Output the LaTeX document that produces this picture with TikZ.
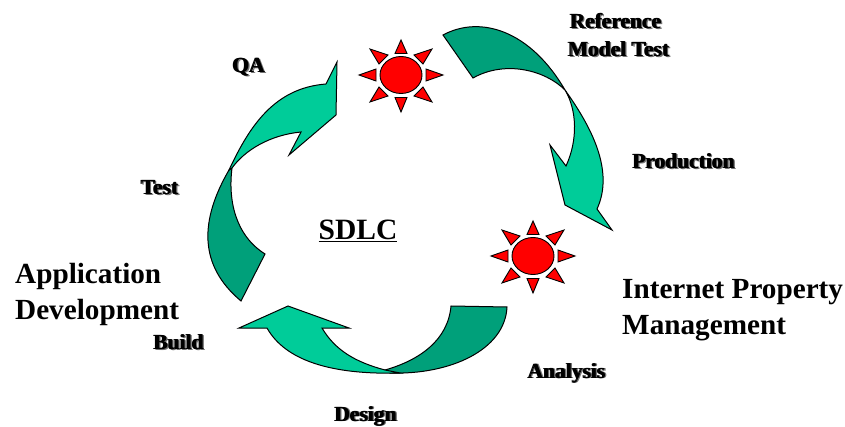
\documentclass[tikz,border=0pt]{standalone}
\usepackage{fontspec}
\setmainfont{Liberation Serif}
\definecolor{lightgreen}{RGB}{0,204,153}
\definecolor{darkgreen}{RGB}{0,160,122}
\tikzset{
  x=1pt,y=-1pt,
  lightarrow/.style={draw=black,line width=1pt,fill=lightgreen,line join=miter},
  darkarrow/.style={draw=black,line width=1pt,fill=darkgreen,line join=miter},
  sunpart/.style={draw=black,line width=0.9pt,fill=red,line join=miter},
  lbl/.style={font=\bfseries\fontsize{21.5}{24}\selectfont,inner sep=0pt,text=black},
  lblshadow/.style={lbl,text=black!55},
  bigtext/.style={font=\bfseries\fontsize{29.2}{36}\selectfont,inner sep=0pt,align=left,anchor=north west},
}
\newcommand{\shadowlabel}[3]{%
  \node[lblshadow] at ($(#1)+(2.2,0.8)$) {#3};
  \node[lbl] at ($(#1)+(1,0)$) {#3};
  \node[lbl] (#2) at (#1) {#3};
}
\newcommand{\sunshape}[3]{%
  \begin{scope}[shift={(#1,#2)}]
    \node[sunpart,ellipse,minimum width=42pt,minimum height=37pt,inner sep=0pt] (#3) at (0,0) {};
    \draw[sunpart] (0,-35) -- (-6,-21.5) -- (6,-21.5) -- cycle;
    \draw[sunpart] (0,37) -- (-6,22.5) -- (6,22.5) -- cycle;
    \draw[sunpart] (42,0) -- (25,-6) -- (25,6) -- cycle;
    \draw[sunpart] (-42,0) -- (-25,-6) -- (-25,6) -- cycle;
    \draw[sunpart] (31,-26) -- (13,-20) -- (22,-11) -- cycle;
    \draw[sunpart] (-31,-26) -- (-13,-20) -- (-22,-11) -- cycle;
    \draw[sunpart] (31,27) -- (13,21) -- (22,12) -- cycle;
    \draw[sunpart] (-31,27) -- (-13,21) -- (-22,12) -- cycle;
  \end{scope}
}
\usetikzlibrary{calc,shapes.geometric}
\begin{document}
\begin{tikzpicture}
\useasboundingbox (0,0) rectangle (845,427);
% left arrow
\draw[darkarrow] (229,170) .. controls (200,220) and (198,265) .. (241,301) -- (265,254) .. controls (235,235) and (228,200) .. (232,168) -- cycle;
\draw[lightarrow] (229,170) .. controls (250,125) and (275,88) .. (326,84) -- (337,62) -- (336,115) -- (289,155) -- (301,132) .. controls (270,135) and (245,150) .. (232,168) -- cycle;
% right arrow
\draw[darkarrow] (443,35) .. controls (480,15) and (530,30) .. (565,90) .. controls (545,70) and (505,60) .. (473,78) -- cycle;
\draw[lightarrow] (565,90) .. controls (590,125) and (615,170) .. (597,209) -- (612,230) -- (565,205) -- (550,145) -- (566,166) .. controls (578,140) and (577,110) .. (565,90) -- cycle;
% bottom arrow
\draw[darkarrow] (451,306) -- (507,307) .. controls (505,350) and (450,375) .. (390,373) -- (385,370) .. controls (420,360) and (448,340) .. (451,306) -- cycle;
\draw[lightarrow] (267,328) .. controls (285,360) and (330,375) .. (400,373) -- (385,370) .. controls (355,362) and (335,350) .. (322,328) -- (349,328) -- (288,306) -- (239,328) -- cycle;
% suns
\sunshape{401}{75}{sunA}
\sunshape{533}{256}{sunB}
% labels
\shadowlabel{615,21}{reference}{Reference}
\shadowlabel{618,49}{modeltest}{Model Test}
\shadowlabel{683,161}{production}{Production}
\shadowlabel{248,67}{qa}{QA}
\shadowlabel{159,188}{testlbl}{Test}
\shadowlabel{178,342}{build}{Build}
\shadowlabel{566,373}{analysis}{Analysis}
\shadowlabel{365,416}{design}{Design}
\node[font=\bfseries\fontsize{29.5}{32}\selectfont,inner sep=0pt] (sdlc) at (358,231) {\underline{SDLC}};
\node[bigtext] (appdev) at (15,263) {Application\\Development};
\node[bigtext] (ipm) at (622,279) {Internet Property\\Management};
\end{tikzpicture}
\end{document}
